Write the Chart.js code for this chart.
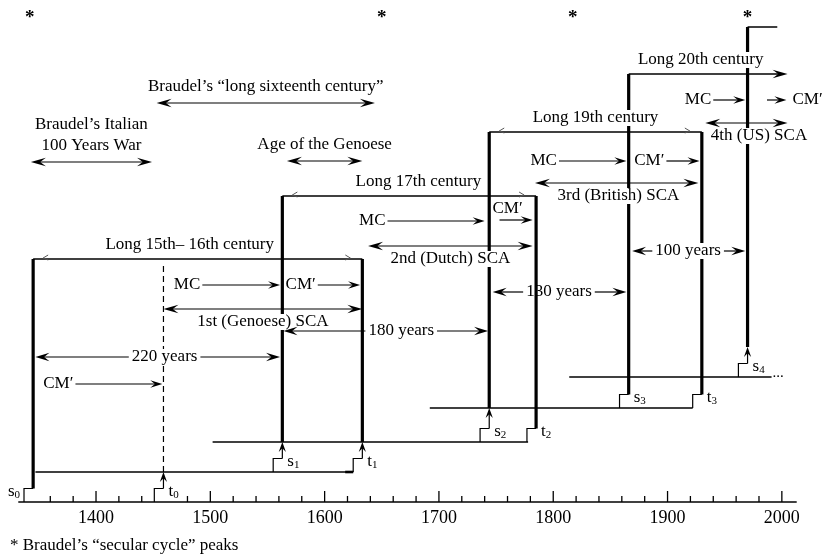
<!DOCTYPE html>
<html>
<head>
<meta charset="utf-8">
<script src="https://cdn.jsdelivr.net/npm/chart.js@4.4.1/dist/chart.umd.min.js"></script>
<style>
  html, body { margin: 0; padding: 0; background: #fff; }
  #wrap { width: 823px; height: 557px; position: relative; }
</style>
</head>
<body>
<div id="wrap"><canvas id="cycles"></canvas></div>
<script>
// axis
const yearLabels = [1400, 1500, 1600, 1700, 1800, 1900, 2000];
const minorYears = [1360, 1380, 1420, 1440, 1480, 1520, 1540, 1560, 1580, 1620, 1640, 1660, 1680,
  1720, 1740, 1760, 1780, 1820, 1840, 1860, 1880, 1920, 1940, 1960, 1980];
const axisSpan = [1332, 2013];

// signal (s) and terminal (t) crises
const marks = ['s0', 't0', 's1', 't1', 's2', 't2', 's3', 't3', 's4'];
const markYear = [1345, 1459, 1563, 1633, 1744, 1785, 1866, 1930, 1970];
const markBase = [0, 0, 3.0, 3.0, 6.0, 6.0, 9.4, 9.4, 12.5];
const markArrowTo = [null, 3.0, 6.0, 6.0, 9.4, null, null, null, 15.5];
const markTop = [24.3, 23.7, 30.6, 24.3, 37.0, 30.6, 42.8, 37.0, 47.5];

// base levels
const levelY = [3.0, 6.0, 9.4, 12.5];
const levelFrom = [1347, 1502, 1692, 1814];
const levelTo = [1625, 1778, 1922, 1991];

// long centuries
const longNames = ['Long 15th\u2013 16th century', 'Long 17th century', 'Long 19th century', 'Long 20th century'];
const longFrom = [1345, 1563, 1744, 1866];
const longTo = [1633, 1785, 1930, 2005];
const longY = [24.3, 30.6, 37.0, 42.8];
const longLabelYear = [1482, 1682, 1837, 1929];
const stubEnd = 1996;

// systemic cycles of accumulation
const scaNames = ['1st (Genoese) SCA', '2nd (Dutch) SCA', '3rd (British) SCA', '4th (US) SCA'];
const scaFrom = [1459, 1638, 1784, 1933];
const scaTo = [1633, 1782, 1927, 2005];
const scaY = [19.3, 25.6, 31.9, 37.9];
const scaLabelYear = [1546, 1710, 1857, 1980];

// MC and CM' phases
const mcFrom = [1493, 1655, 1805, 1940];
const mcTo = [1561, 1740, 1864, 1968];
const mcY = [21.7, 28.1, 34.1, 40.2];
const cmFrom = [1382, 1594, 1753, 1899, 1987];
const cmTo = [1458, 1631, 1782, 1928, 2004];
const cmY = [11.8, 21.7, 28.2, 34.1, 40.2];

// durations
const spanNames = ['220 years', '180 years', '130 years', '100 years'];
const spanFrom = [1347, 1564, 1747, 1869];
const spanTo = [1561, 1743, 1864, 1968];
const spanY = [14.5, 17.1, 21.0, 25.1];
const spanLabelYear = [1460, 1667, 1805, 1918];

// Braudel's periods
const braudelNames = [['Braudel\u2019s Italian', '100 Years War'], ['Braudel\u2019s \u201clong sixteenth century\u201d'], ['Age of the Genoese']];
const braudelFrom = [1343, 1453, 1567];
const braudelTo = [1449, 1644, 1633];
const braudelY = [34.0, 39.9, 34.1];

// secular cycle peaks
const peakYears = [1342, 1650, 1817, 1970];
const peakY = 48.8;

const ink = '#000';
const serif = '"Liberation Serif", "DejaVu Serif", serif';
const stepShift = 8;
const stepRise = 1.35;

const datasets = [];
const seg = (pts, width, dash) => datasets.push({
  data: pts.map(([x, y]) => ({ x, y })),
  borderColor: ink, borderWidth: width, borderDash: dash || [],
  pointRadius: 0, fill: false, clip: false
});

seg([[axisSpan[0], 0], [axisSpan[1], 0]], 1.6);
levelY.forEach((y, i) => seg([[levelFrom[i], y], [levelTo[i], y]], 1.5));
seg([[levelTo[0] - 7, levelY[0]], [levelTo[0], levelY[0]]], 2.6);

marks.forEach((m, i) => {
  const yr = markYear[i];
  const top = markBase[i] + stepRise;
  seg([[yr - stepShift, markBase[i]], [yr - stepShift, top], [yr, top]], 1.2);
  let start = top;
  if (markArrowTo[i] != null) {
    seg([[yr, top], [yr, markArrowTo[i] - 0.6]], 1.2);
    start = markArrowTo[i];
  }
  if (m === 't0') seg([[yr, start], [yr, markTop[i]]], 1.2, [6, 4]);
  else seg([[yr, start], [yr, markTop[i]]], 3.2);
});

longY.forEach((y, i) => seg([[longFrom[i], y], [i === 3 ? longTo[i] - 5 : longTo[i], y]], 1.5));
seg([[markYear[8], markTop[8]], [stubEnd, markTop[8]]], 1.5);

const diagram = {
  id: 'diagram',
  afterDatasetsDraw(chart) {
    const { ctx } = chart;
    const xs = chart.scales.x, ys = chart.scales.y;
    const X = v => xs.getPixelForValue(v);
    const Y = v => ys.getPixelForValue(v);
    ctx.save();
    ctx.fillStyle = ink;
    ctx.strokeStyle = ink;
    ctx.lineCap = 'butt';

    const line = (x1, y1, x2, y2, w = 1.2) => {
      ctx.lineWidth = w;
      ctx.beginPath(); ctx.moveTo(x1, y1); ctx.lineTo(x2, y2); ctx.stroke();
    };
    const head = (x, y, ang, len = 12, half = 3.8) => {
      ctx.save();
      ctx.translate(x, y); ctx.rotate(ang);
      ctx.beginPath();
      ctx.moveTo(0, 0); ctx.lineTo(-len, -half); ctx.lineTo(-len * 0.62, 0); ctx.lineTo(-len, half);
      ctx.closePath(); ctx.fill();
      ctx.restore();
    };
    const chevron = (x, y, dir) => {
      ctx.save();
      ctx.strokeStyle = '#555'; ctx.lineWidth = 1;
      ctx.beginPath();
      ctx.moveTo(x + dir * 5, y - 4); ctx.lineTo(x, y - 1); ctx.lineTo(x + dir * 5, y + 1);
      ctx.stroke();
      ctx.restore();
    };
    const text = (s, x, y, opt = {}) => {
      ctx.font = `${opt.bold ? 'bold ' : ''}${opt.size || 17}px ${serif}`;
      const align = opt.align || 'center';
      ctx.textAlign = align;
      ctx.textBaseline = 'middle';
      const w = ctx.measureText(s).width;
      if (opt.bg) {
        const x0 = align === 'center' ? x - w / 2 : align === 'right' ? x - w : x;
        ctx.fillStyle = '#fff';
        ctx.fillRect(x0 - 3, y - 8, w + 6, 16);
        ctx.fillStyle = ink;
      }
      ctx.fillText(s, x, y);
      return w;
    };
    const arrowR = (x1, x2, y) => { line(x1, y, x2 - 6, y); head(x2, y, 0, 12, 3.8); };
    const both = (x1, x2, y) => {
      line(x1 + 6, y, x2 - 6, y);
      head(x1, y, Math.PI, 15, 4.2); head(x2, y, 0, 15, 4.2);
    };

    // axis ticks
    const y0 = Y(0);
    yearLabels.forEach(v => line(X(v), y0, X(v), y0 - 11, 1.3));
    minorYears.forEach(v => line(X(v), y0, X(v), y0 - 6, 1.3));

    // arrow heads on s/t marks
    marks.forEach((m, i) => {
      if (markArrowTo[i] != null) head(X(markYear[i]), Y(markArrowTo[i]), -Math.PI / 2, 10, 3.6);
    });

    // long century lines
    longY.forEach((y, i) => {
      if (i < 3) {
        chevron(X(longFrom[i]) + 10, Y(y), 1);
        chevron(X(longTo[i]) - 12, Y(y), -1);
      } else {
        head(X(longTo[i]), Y(y), 0, 15, 4.2);
      }
      text(longNames[i], X(longLabelYear[i]), Y(y) - 14, { bg: true });
    });

    // SCA
    scaNames.forEach((n, i) => {
      both(X(scaFrom[i]), X(scaTo[i]), Y(scaY[i]));
      text(n, X(scaLabelYear[i]), Y(scaY[i]) + 13, { bg: true });
    });

    // MC
    mcFrom.forEach((f, i) => {
      arrowR(X(f), X(mcTo[i]), Y(mcY[i]));
      text('MC', X(f) - 2, Y(mcY[i]), { align: 'right' });
    });

    // CM'
    cmFrom.forEach((f, i) => {
      arrowR(X(f), X(cmTo[i]), Y(cmY[i]));
      if (i === 2) text('CM\u2032', X(f) - 7, Y(cmY[i]) - 11, { align: 'left' });
      else if (i === 4) text('CM\u2032', X(cmTo[i]) + 6, Y(cmY[i]), { align: 'left' });
      else text('CM\u2032', X(f) - 2, Y(cmY[i]), { align: 'right' });
    });

    // durations
    spanNames.forEach((n, i) => {
      const cx = X(spanLabelYear[i]), y = Y(spanY[i]);
      const w = text(n, cx, y, { bg: i !== 2 });
      const l = cx - w / 2 - 3, r = cx + w / 2 + 3;
      line(X(spanFrom[i]) + 6, y, l, y);
      head(X(spanFrom[i]), y, Math.PI, 14, 4.2);
      line(r, y, X(spanTo[i]) - 6, y);
      head(X(spanTo[i]), y, 0, 14, 4.2);
    });

    // Braudel
    braudelNames.forEach((lines, i) => {
      const cx = (X(braudelFrom[i]) + X(braudelTo[i])) / 2, y = Y(braudelY[i]);
      both(X(braudelFrom[i]), X(braudelTo[i]), y);
      lines.forEach((s, k) => text(s, cx, y - 16 - (lines.length - 1 - k) * 21));
    });

    // peaks
    peakYears.forEach(v => text('*', X(v), Y(peakY) + 4, { size: 19, bold: true }));

    // s/t labels
    marks.forEach((m, i) => {
      const yy = Y(markBase[i] + stepRise) + 3;
      ctx.font = `17px ${serif}`;
      ctx.textBaseline = 'middle';
      if (i === 0) {
        const x = X(markYear[i] - stepShift) - 4;
        ctx.font = `11px ${serif}`;
        const dw = ctx.measureText(m[1]).width;
        ctx.textAlign = 'right';
        ctx.fillText(m[1], x, yy + 4);
        ctx.font = `17px ${serif}`;
        ctx.fillText(m[0], x - dw, yy);
      } else {
        const x = X(markYear[i]) + 5;
        ctx.textAlign = 'left';
        ctx.fillText(m[0], x, yy);
        const sw = ctx.measureText(m[0]).width;
        ctx.font = `11px ${serif}`;
        ctx.fillText(m[1], x + sw, yy + 4);
      }
    });

    // continuation dots
    text('...', X(levelTo[3]) + 1, Y(levelY[3]) - 4, { align: 'left', size: 15 });

    // footnote
    ctx.font = `17px ${serif}`;
    ctx.textAlign = 'left';
    ctx.textBaseline = 'middle';
    ctx.fillText('* Braudel\u2019s \u201csecular cycle\u201d peaks', 10, chart.chartArea.bottom + 44);

    ctx.restore();
  }
};

new Chart(document.getElementById('cycles'), {
  type: 'line',
  data: { datasets },
  options: {
    responsive: true,
    maintainAspectRatio: false,
    animation: false,
    devicePixelRatio: 1,
    layout: { padding: 0 },
    plugins: { legend: { display: false }, tooltip: { enabled: false } },
    elements: { point: { radius: 0 }, line: { tension: 0, borderCapStyle: 'butt' } },
    scales: {
      x: {
        type: 'linear', min: 1316, max: 2036,
        grid: { display: false, drawTicks: false },
        border: { display: false },
        afterBuildTicks: s => { s.ticks = yearLabels.map(v => ({ value: v })); },
        afterFit: s => { s.height = 55; },
        ticks: {
          font: { family: serif, size: 18 }, color: ink, padding: 5,
          maxRotation: 0, autoSkip: false, callback: v => String(v)
        }
      },
      y: { type: 'linear', min: 0, max: 50.2, display: false }
    }
  },
  plugins: [diagram]
});
</script>
</body>
</html>
